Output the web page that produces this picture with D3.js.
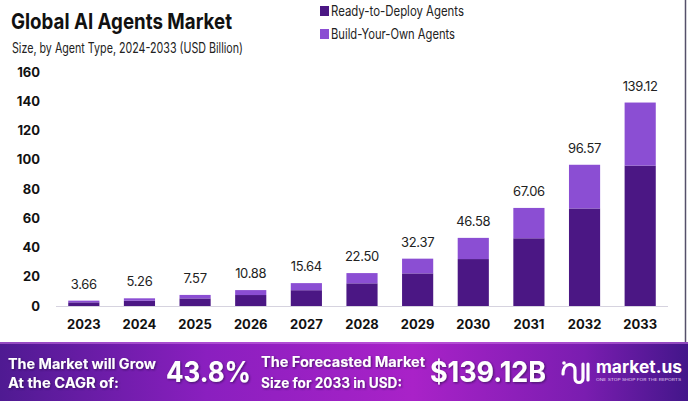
<!DOCTYPE html>
<html>
<head>
<meta charset="utf-8">
<script src="https://cdn.jsdelivr.net/npm/d3@7"></script>
<style>
  body { margin: 0; background: #fff; }
  svg { display: block; font-family: Inter, "Open Sans", sans-serif; }
</style>
</head>
<body>
<div id="chart"></div>
<script>
// chart data
var years = ["2023","2024","2025","2026","2027","2028","2029","2030","2031","2032","2033"];
var readyToDeploy = [2.5, 3.6, 5.2, 7.5, 10.8, 15.5, 22.3, 32.1, 46.3, 66.7, 96.0];
var buildYourOwn = [1.16, 1.66, 2.37, 3.38, 4.84, 7.0, 10.07, 14.48, 20.76, 29.87, 43.12];
var totals = ["3.66","5.26","7.57","10.88","15.64","22.50","32.37","46.58","67.06","96.57","139.12"];
var yTicks = [0, 20, 40, 60, 80, 100, 120, 140, 160];
var seriesNames = ["Ready-to-Deploy Agents", "Build-Your-Own Agents"];
var colors = ["#4b1784", "#8b4ed3"];

var W = 688, H = 401;
var svg = d3.select("#chart").append("svg")
  .attr("width", W).attr("height", H);

svg.append("rect").attr("width", W).attr("height", H).attr("fill", "#fff");

// titles
svg.append("text").attr("x", 11).attr("y", 29)
  .attr("font-size", 22).attr("font-weight", 700).attr("fill", "#111")
  .attr("textLength", 221).attr("lengthAdjust", "spacingAndGlyphs")
  .text("Global AI Agents Market");
svg.append("text").attr("x", 12).attr("y", 53)
  .attr("font-size", 14).attr("fill", "#222")
  .attr("textLength", 231).attr("lengthAdjust", "spacingAndGlyphs")
  .text("Size, by Agent Type, 2024-2033 (USD Billion)");

// legend
var legend = svg.append("g");
seriesNames.forEach(function(name, i){
  var g = legend.append("g").attr("transform", "translate(320," + (6 + i * 23) + ")");
  g.append("rect").attr("width", 9).attr("height", 10).attr("fill", colors[i]);
  g.append("text").attr("x", 11).attr("y", 10)
    .attr("font-size", 14).attr("fill", "#222")
    .attr("textLength", i == 0 ? 133 : 124).attr("lengthAdjust", "spacingAndGlyphs")
    .text(name);
});

// right border line
svg.append("line").attr("x1", 685.5).attr("x2", 685.5).attr("y1", 0).attr("y2", 342)
  .attr("stroke", "#55506a").attr("stroke-width", 1.5);

var x = d3.scaleBand().domain(years).range([56, 668]).paddingInner(0.44).paddingOuter(0.22);
var y = d3.scaleLinear().domain([0, 160]).range([306, 72]);

// y axis labels
var yAxis = svg.append("g").attr("transform", "translate(40,0)")
  .call(d3.axisLeft(y).tickValues(yTicks).tickSize(0).tickPadding(0));
yAxis.select(".domain").remove();
yAxis.selectAll("text").attr("font-size", 13).attr("font-weight", 700)
  .attr("fill", "#111").attr("font-family", "Inter, sans-serif");

// baseline
svg.append("line").attr("x1", 56).attr("x2", 668).attr("y1", y(0) + 0.5).attr("y2", y(0) + 0.5)
  .attr("stroke", "#d6d3df").attr("stroke-width", 1);

// stacked bars
var rows = years.map(function(yr, i){
  return { year: yr, ready: readyToDeploy[i], build: buildYourOwn[i], total: totals[i] };
});
var stack = d3.stack().keys(["ready", "build"])(rows);

svg.append("g").selectAll("g").data(stack).join("g")
  .attr("fill", function(d, i){ return colors[i]; })
  .selectAll("rect").data(function(d){ return d; }).join("rect")
  .attr("x", function(d){ return x(d.data.year); })
  .attr("width", x.bandwidth())
  .attr("y", function(d){ return y(d[1]); })
  .attr("height", function(d){ return y(d[0]) - y(d[1]); });

// value labels
svg.append("g").selectAll("text").data(rows).join("text")
  .attr("x", function(d){ return x(d.year) + x.bandwidth() / 2; })
  .attr("y", function(d){ return y(d.ready + d.build) - 12; })
  .attr("text-anchor", "middle").attr("font-size", 13).attr("fill", "#222")
  .attr("letter-spacing", -0.3)
  .text(function(d){ return d.total; });

// x axis labels
var xAxis = svg.append("g").attr("transform", "translate(0," + 320 + ")")
  .call(d3.axisBottom(x).tickSize(0).tickPadding(0));
xAxis.select(".domain").remove();
xAxis.selectAll("text").attr("font-size", 13).attr("font-weight", 700)
  .attr("fill", "#111").attr("font-family", "Inter, sans-serif");

// footer banner
var defs = svg.append("defs");
var grad = defs.append("linearGradient").attr("id", "banner").attr("x1", 0).attr("x2", 1).attr("y1", 0).attr("y2", 0);
grad.append("stop").attr("offset", "0%").attr("stop-color", "#4f1a92");
grad.append("stop").attr("offset", "30%").attr("stop-color", "#8a1fbf");
grad.append("stop").attr("offset", "60%").attr("stop-color", "#a922c8");
grad.append("stop").attr("offset", "85%").attr("stop-color", "#7a1db0");
grad.append("stop").attr("offset", "100%").attr("stop-color", "#43168a");
var shadow = defs.append("filter").attr("id", "shadow");
shadow.append("feDropShadow").attr("dx", 1).attr("dy", 1).attr("stdDeviation", 1)
  .attr("flood-color", "#2a0845").attr("flood-opacity", 0.7);

svg.append("rect").attr("x", 0).attr("y", 342).attr("width", W).attr("height", H - 342)
  .attr("fill", "url(#banner)");
svg.append("rect").attr("x", 0).attr("y", 342).attr("width", W).attr("height", 2)
  .attr("fill", "#c36ae0").attr("opacity", 0.6);

var foot = svg.append("g").attr("fill", "#fff").attr("font-weight", 700).attr("filter", "url(#shadow)");
foot.append("text").attr("x", 8).attr("y", 369).attr("font-size", 14)
  .attr("textLength", 148).attr("lengthAdjust", "spacingAndGlyphs").text("The Market will Grow");
foot.append("text").attr("x", 8).attr("y", 388).attr("font-size", 14)
  .attr("textLength", 111).attr("lengthAdjust", "spacingAndGlyphs").text("At the CAGR of:");
foot.append("text").attr("x", 166).attr("y", 382).attr("font-size", 29)
  .attr("textLength", 85).attr("lengthAdjust", "spacingAndGlyphs").text("43.8%");
foot.append("text").attr("x", 261).attr("y", 367).attr("font-size", 14)
  .attr("textLength", 164).attr("lengthAdjust", "spacingAndGlyphs").text("The Forecasted Market");
foot.append("text").attr("x", 261).attr("y", 388).attr("font-size", 14)
  .attr("textLength", 141).attr("lengthAdjust", "spacingAndGlyphs").text("Size for 2033 in USD:");
foot.append("text").attr("x", 430).attr("y", 382).attr("font-size", 29)
  .attr("textLength", 116).attr("lengthAdjust", "spacingAndGlyphs").text("$139.12B");

// logo
var logo = svg.append("g").attr("transform", "translate(561,358)");
logo.append("path")
  .attr("d", "M2,16 C2,4 14,4 14,12 L14,20 C14,26 22,26 22,20 L22,6 M27,6 L27,22")
  .attr("fill", "none").attr("stroke", "#fff").attr("stroke-width", 3.2).attr("stroke-linecap", "round");
logo.append("circle").attr("cx", 3).attr("cy", 5).attr("r", 1.8).attr("fill", "#fff");
logo.append("text").attr("x", 35).attr("y", 15).attr("font-size", 17).attr("font-weight", 700)
  .attr("fill", "#fff").attr("textLength", 86).attr("lengthAdjust", "spacingAndGlyphs").text("market.us");
logo.append("text").attr("x", 35).attr("y", 23).attr("font-size", 3.6).attr("fill", "#e9d7f5")
  .attr("textLength", 85).attr("lengthAdjust", "spacingAndGlyphs").text("ONE STOP SHOP FOR THE REPORTS");
</script>
</body>
</html>
